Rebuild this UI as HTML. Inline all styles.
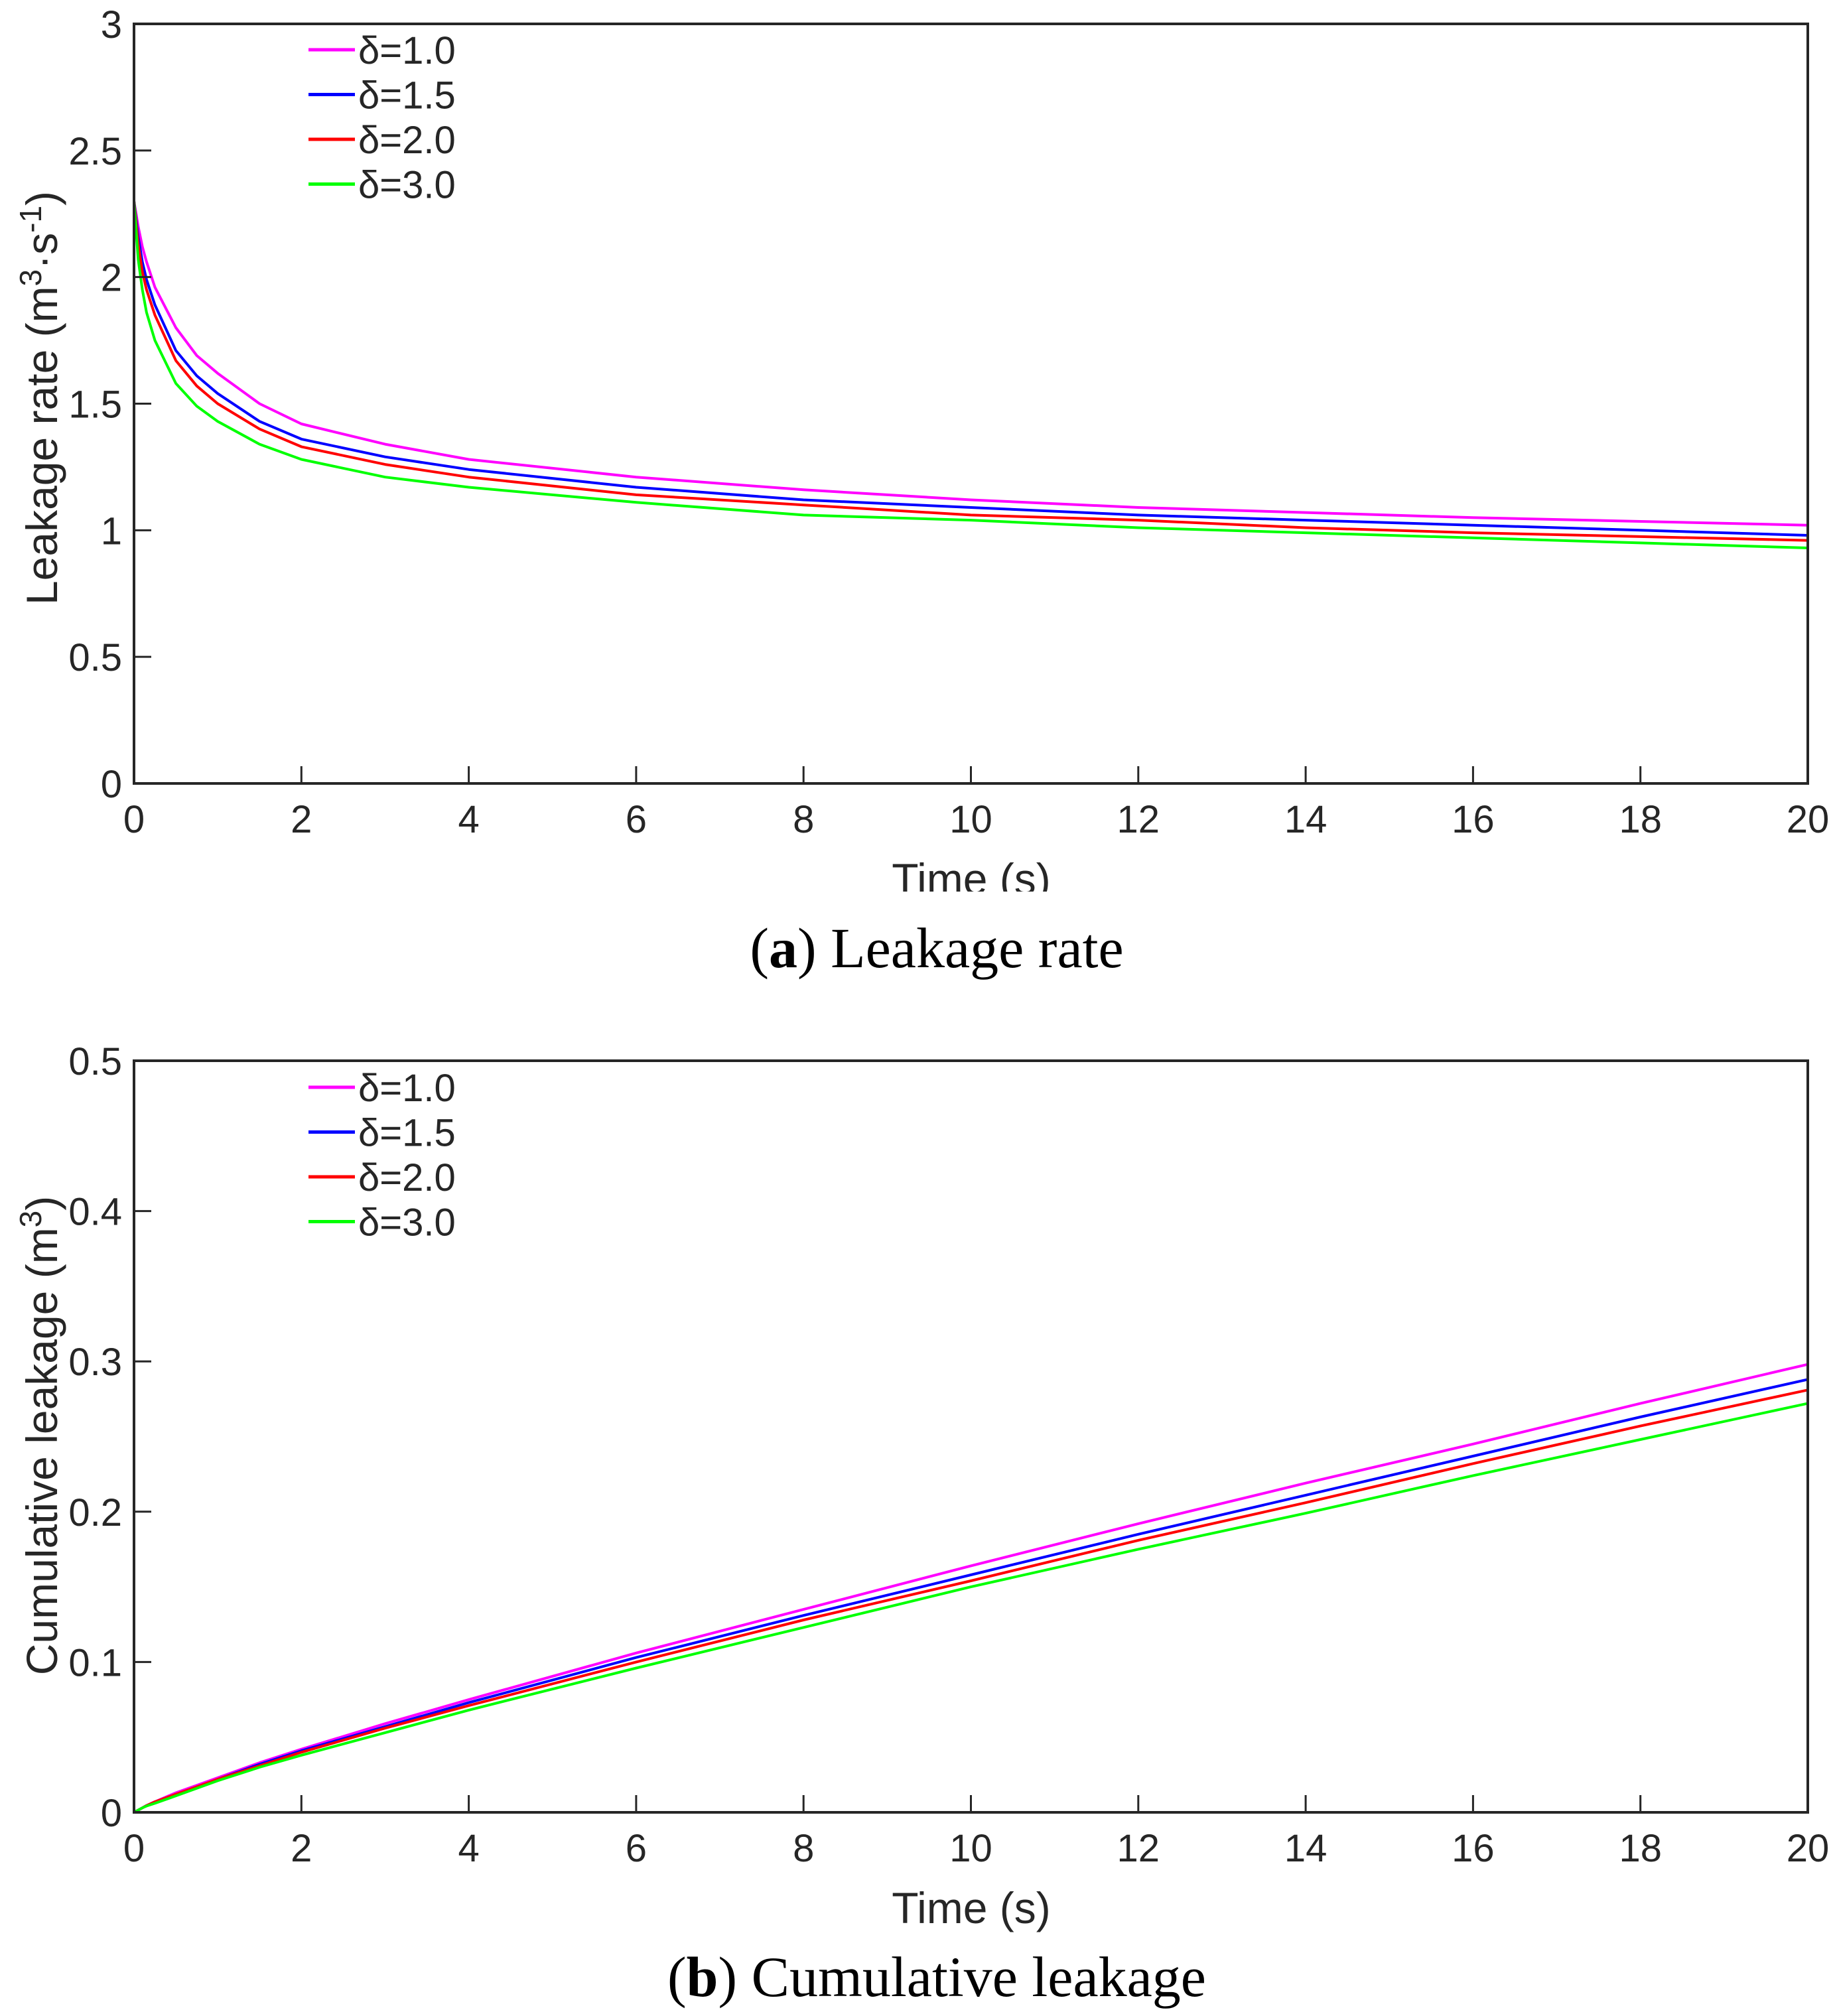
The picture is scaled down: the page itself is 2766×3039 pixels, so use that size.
<!DOCTYPE html>
<html><head><meta charset="utf-8"><style>
html,body{margin:0;padding:0;background:#fff;}
svg{display:block;}
text{font-family:"Liberation Sans",Arial,sans-serif;fill:#262626;}
.cap{font-family:"Liberation Serif",serif;fill:#000;}
</style></head><body>
<svg id="fig" width="2766" height="3039" viewBox="0 0 2766 3039" xmlns="http://www.w3.org/2000/svg">
<rect width="2766" height="3039" fill="#fff"/>
</svg>
<script>
const NS="http://www.w3.org/2000/svg";
const timeVals=[0,0.05,0.1,0.15,0.25,0.5,0.75,1,1.5,2,3,4,6,8,10,12,14,16,18,20];
const seriesNames=["δ=1.0","δ=1.5","δ=2.0","δ=3.0"];
const seriesColors=["#ff00ff","#0000ff","#ff0000","#00ff00"];
const rateM=[2.3,2.2,2.12,2.06,1.96,1.8,1.69,1.62,1.5,1.42,1.34,1.28,1.21,1.16,1.12,1.09,1.07,1.05,1.035,1.02];
const rateB=[2.3,2.16,2.06,1.99,1.89,1.71,1.61,1.54,1.43,1.36,1.29,1.24,1.17,1.12,1.09,1.06,1.04,1.02,1.0,0.98];
const rateR=[2.3,2.13,2.02,1.95,1.85,1.67,1.57,1.5,1.4,1.33,1.26,1.21,1.14,1.1,1.06,1.04,1.01,0.99,0.975,0.96];
const rateG=[2.3,2.07,1.95,1.86,1.75,1.58,1.49,1.43,1.34,1.28,1.21,1.17,1.11,1.06,1.04,1.01,0.99,0.97,0.95,0.93];
const cumM=[0,0.0015,0.003,0.0045,0.007,0.013,0.018,0.023,0.033,0.042,0.059,0.075,0.106,0.135,0.164,0.192,0.219,0.245,0.272,0.298];
const cumB=[0,0.0015,0.003,0.0045,0.007,0.012,0.017,0.022,0.032,0.041,0.057,0.073,0.103,0.131,0.158,0.185,0.211,0.237,0.263,0.288];
const cumR=[0,0.0015,0.003,0.0045,0.007,0.012,0.017,0.022,0.031,0.040,0.056,0.071,0.100,0.128,0.154,0.181,0.206,0.232,0.257,0.281];
const cumG=[0,0.0015,0.003,0.0042,0.006,0.011,0.016,0.021,0.030,0.038,0.053,0.068,0.096,0.123,0.150,0.175,0.199,0.224,0.248,0.272];
const xTicks=[0,2,4,6,8,10,12,14,16,18,20];
const yTicksA=[0,0.5,1,1.5,2,2.5,3];
const yTicksB=[0,0.1,0.2,0.3,0.4,0.5];
const svg=document.getElementById('fig');
function el(tag,attrs,parent){const e=document.createElementNS(NS,tag);for(const k in attrs)e.setAttribute(k,attrs[k]);(parent||svg).appendChild(e);return e;}
function panel(p){
  const L=202,R=2725,T=p.top,B=p.bottom;
  const g=el('g',{});
  
  
  const sx=v=>L+(v-0)/(20-0)*(R-L);
  const sy=v=>B-(v-p.ymin)/(p.ymax-p.ymin)*(B-T);
  p.series.forEach((arr,i)=>{
    const d=arr.map((v,j)=>(j?'L':'M')+sx(timeVals[j]).toFixed(1)+' '+sy(v).toFixed(1)).join(' ');
    const path=el('path',{d:d,fill:'none',stroke:seriesColors[i],'stroke-width':4,'stroke-linejoin':'round'},g);
    
    
  });
  const box=el('rect',{x:L,y:T,width:R-L,height:B-T,fill:'none',stroke:'#262626','stroke-width':4},g);
  
  
  xTicks.forEach(v=>{
    const x=sx(v);
    el('line',{x1:x,y1:B,x2:x,y2:B-26,stroke:'#262626','stroke-width':3},g);
    const t=el('text',{x:x,y:B+74,'font-size':58,'text-anchor':'middle'},g);
    t.textContent=v;
    
    
  });
  p.yTicks.forEach(v=>{
    const y=sy(v);
    el('line',{x1:L,y1:y,x2:L+26,y2:y,stroke:'#262626','stroke-width':3},g);
    const t=el('text',{x:184,y:y+21,'font-size':58,'text-anchor':'end'},g);
    t.textContent=v;
    
    
  });
  seriesNames.forEach((n,i)=>{
    const y=p.legY+i*67.5;
    const ln=el('line',{x1:465,y1:y,x2:535,y2:y,stroke:seriesColors[i],'stroke-width':5},g);
    
    
    const t=el('text',{x:540,y:y+21,'font-size':58},g);
    t.textContent=n;
    
    
  });
  const xt=el('text',{x:1464,y:B+167,'font-size':66,'text-anchor':'middle'},g);
  xt.textContent='Time (s)';
  
  
  if(p.clip){el('rect',{x:1200,y:B+163,width:600,height:40,fill:'#fff'},g);}
  const yt=el('text',{x:0,y:0,'font-size':66,'text-anchor':'middle',transform:'translate(86,'+p.yTitleY+') rotate(-90)'},g);
  yt.innerHTML=p.yTitle;
  
  
  const cap=el('text',{x:1412,y:B+277,'font-size':86,'text-anchor':'middle','class':'cap'},g);
  cap.innerHTML='(<tspan font-weight="bold">'+p.letter+'</tspan>) '+p.caption;
  
  
}
panel({name:'leakage-rate-chart',top:36,bottom:1181,ymin:0,ymax:3,yTicks:yTicksA,series:[rateM,rateB,rateR,rateG],legY:75,clip:true,
  yTitle:'Leakage rate (m<tspan dy="-24" font-size="46">3</tspan><tspan dy="24">·s</tspan><tspan dy="-24" font-size="46">-1</tspan><tspan dy="24">)</tspan>',yTitleY:600,letter:'a',caption:'Leakage rate'});
panel({name:'cumulative-leakage-chart',top:1599,bottom:2732,ymin:0,ymax:0.5,yTicks:yTicksB,series:[cumM,cumB,cumR,cumG],legY:1639,clip:false,
  yTitle:'Cumulative leakage (m<tspan dy="-24" font-size="46">3</tspan><tspan dy="24">)</tspan>',yTitleY:2164,letter:'b',caption:'Cumulative leakage'});
</script>
</body></html>
